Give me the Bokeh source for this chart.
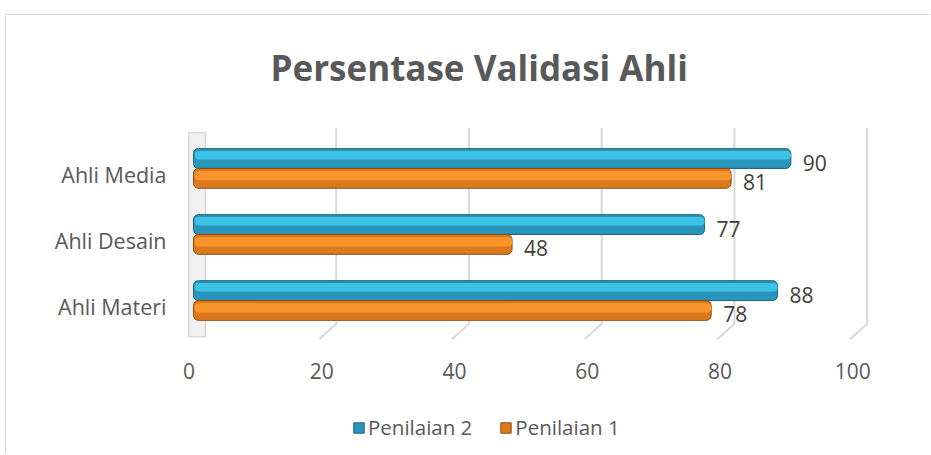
from bokeh.plotting import figure
from bokeh.layouts import column
from bokeh.models import (Range1d, FixedTicker, Legend, LegendItem, ColumnDataSource,
                          CustomJSTickFormatter, InlineStyleSheet)
from bokeh.core.properties import value
from bokeh.transform import dodge
from bokeh.embed import file_html
from bokeh.resources import INLINE

# ---- data ----
categories = ["Ahli Materi", "Ahli Desain", "Ahli Media"]
penilaian_1 = [78, 48, 81]
penilaian_2 = [88, 77, 90]
series_names = ["Penilaian 2", "Penilaian 1"]
x_ticks = [0, 20, 40, 60, 80, 100]
title_text = "Persentase Validasi Ahli"

FONT = "Open Sans"
TXT = "#595959"
BLUE = dict(fill_color="#2a95ba", line_color="#1a617a")
BLUE_HI = "#3ec1e7"
ORANGE = dict(fill_color="#dc791c", line_color="#8f4d10")
ORANGE_HI = "#fa952e"
pos = list(range(len(categories)))

Y0, Y1 = -0.59, 2.62
W = 930
p = figure(width=W, height=405, output_backend="svg", toolbar_location=None,
           x_range=Range1d(-1.2, 102), y_range=Range1d(Y0, Y1),
           min_border_left=185, min_border_right=60, min_border_top=127,
           min_border_bottom=66)
p.outline_line_color = None
p.grid.visible = False

# title
p.title.text = title_text
p.title.align = "left"
p.title.offset = 85
p.title.vertical_align = "top"
p.title.standoff = 70
p.title.text_font = FONT
p.title.text_font_size = "35px"
p.title.text_font_style = "bold"
p.title.text_color = TXT

# axes
for ax in (p.xaxis, p.yaxis):
    ax.axis_line_color = None
    ax.major_tick_line_color = None
    ax.minor_tick_line_color = None
    ax.major_label_text_font = FONT
    ax.major_label_text_color = TXT
p.xaxis.major_label_text_font_size = "21px"
p.yaxis.major_label_text_font_size = "21.5px"
# tick labels sit on the front plane of the 3D floor (slightly left of the bars' origin)
SHIFT = 0.68
p.xaxis.ticker = FixedTicker(ticks=[t - SHIFT for t in x_ticks])
p.xaxis.formatter = CustomJSTickFormatter(args=dict(shift=SHIFT),
                                          code="return String(Math.round(tick + shift))")
p.xaxis.major_label_standoff = 17
# category labels sit slightly below the bar-pair centre
p.yaxis.ticker = FixedTicker(ticks=[i - 0.09 for i in pos])
p.yaxis.formatter = CustomJSTickFormatter(args=dict(labels=categories),
                                          code="return labels[Math.round(tick)]")
p.yaxis.major_label_standoff = 13

# 3D-ish back wall and floor grid lines
p.quad(left=x_ticks[0] - 0.7, right=x_ticks[0] + 1.8, bottom=Y0 + 0.04, top=Y1 - 0.08,
       fill_color="#f1f1f1", line_color="#d9d9d9", line_width=1.5)
p.multi_line(xs=[[t + 1.5, t + 1.5, t - 1.1] for t in x_ticks[1:]],
             ys=[[Y1, -0.35, Y0] for _ in x_ticks[1:]],
             line_color="#d9d9d9", line_width=2)

src = ColumnDataSource(dict(y=pos, p1=penilaian_1, p2=penilaian_2,
                            p1s=[str(v) for v in penilaian_1],
                            p2s=[str(v) for v in penilaian_2]))

# Penilaian 2 (blue)
p.hbar(y=dodge("y", 0.15), height=0.30, left=0, right="p2", source=src,
       line_width=1, border_radius=5, **BLUE)
p.hbar(y=dodge("y", 0.20), height=0.13, left=0.2, right="p2", source=src,
       fill_color=BLUE_HI, line_color=None, border_radius=4)
# Penilaian 1 (orange)
p.hbar(y=dodge("y", -0.15), height=0.30, left=0, right="p1", source=src,
       line_width=1, border_radius=5, **ORANGE)
p.hbar(y=dodge("y", -0.11), height=0.14, left=0.2, right="p1", source=src,
       fill_color=ORANGE_HI, line_color=None, border_radius=4)

# value labels
p.text(x="p2", y=dodge("y", 0.15), text="p2s", source=src, x_offset=12, y_offset=4,
       text_baseline="middle", text_font=value(FONT), text_font_size="21px",
       text_color="#404040")
p.text(x="p1", y=dodge("y", -0.15), text="p1s", source=src, x_offset=12, y_offset=4,
       text_baseline="middle", text_font=value(FONT), text_font_size="21px",
       text_color="#404040")

# ---- legend strip below the chart ----
LH = 49
lg = figure(width=W, height=LH, output_backend="svg", toolbar_location=None,
            x_range=Range1d(0, 1), y_range=Range1d(0, 1),
            min_border=0, x_axis_type=None, y_axis_type=None)
lg.outline_line_color = None
lg.grid.visible = False
lr2 = lg.hbar(y="y", right="p2", height=0.3, source=src, line_width=1, **BLUE)
lr1 = lg.hbar(y="y", right="p1", height=0.3, source=src, line_width=1, **ORANGE)
lr2.visible = False
lr1.visible = False
legend = Legend(items=[LegendItem(label=series_names[0], renderers=[lr2]),
                       LegendItem(label=series_names[1], renderers=[lr1])],
                orientation="horizontal", location=(167, 13), padding=0, margin=0,
                border_line_color=None, background_fill_alpha=0,
                inactive_fill_alpha=0,
                glyph_width=13, glyph_height=13, label_standoff=3, spacing=27,
                label_text_font=FONT, label_text_font_size="20.5px",
                label_text_color=TXT)
lg.add_layout(legend)

frame_css = InlineStyleSheet(css="""
:host { position: relative; }
:host::after { content: ""; position: absolute; left: 5px; top: 14px; right: 0; bottom: 0;
  border-top: 1px solid #d9d9d9; border-left: 1px solid #d9d9d9;
  pointer-events: none; z-index: 10; }
""")
layout = column(p, lg, spacing=0, stylesheets=[frame_css])
open("out.html", "w").write(file_html(layout, INLINE))
